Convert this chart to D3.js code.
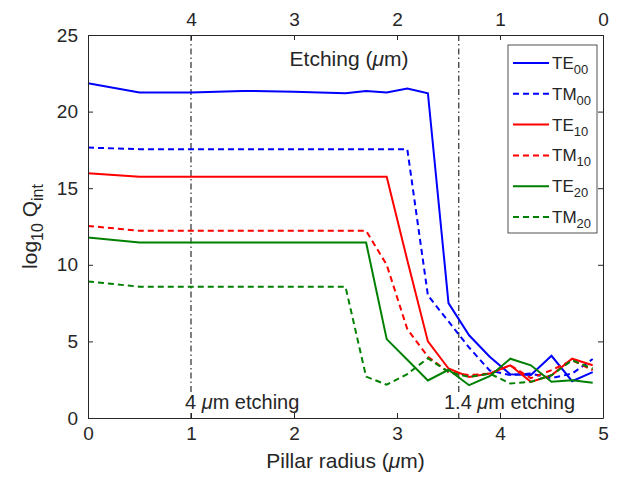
<!DOCTYPE html>
<html>
<head>
<meta charset="utf-8">
<script src="https://cdn.jsdelivr.net/npm/d3@7"></script>
<style>
  body { margin: 0; background: #fff; }
  text { font-family: "Liberation Sans", Arial, sans-serif; fill: #262626; }
</style>
</head>
<body>
<div id="chart"></div>
<script>
// pillar radius (um) sample points
const radius = [0, 0.5, 1, 1.5, 2, 2.5, 2.7, 2.9, 3.1, 3.3, 3.5, 3.7, 3.9, 4.1, 4.3, 4.5, 4.7, 4.9];

// log10 Q_int per mode
const te00 = [21.85, 21.25, 21.25, 21.35, 21.3, 21.2, 21.35, 21.25, 21.5, 21.2, 7.5, 5.4, 4.0, 2.85, 2.8, 4.06, 2.4, 3.0];
const tm00 = [17.65, 17.55, 17.55, 17.55, 17.55, 17.55, 17.55, 17.55, 17.55, 8.0, 6.3, 4.6, 3.1, 2.8, 2.9, 2.6, 2.9, 3.85];
const te10 = [15.98, 15.74, 15.74, 15.74, 15.74, 15.74, 15.74, 15.74, 10.3, 5.0, 3.23, 2.68, 2.9, 3.44, 2.36, 2.79, 3.87, 3.44];
const tm10 = [12.54, 12.22, 12.22, 12.22, 12.22, 12.22, 12.22, 10.0, 5.8, 4.0, 3.0, 2.8, 2.9, 3.44, 2.6, 3.12, 3.77, 3.12];
const te20 = [11.78, 11.46, 11.46, 11.46, 11.46, 11.46, 11.46, 5.15, 3.8, 2.45, 3.15, 2.14, 2.73, 3.87, 3.44, 2.36, 2.47, 2.3];
const tm20 = [8.91, 8.57, 8.57, 8.57, 8.57, 8.57, 2.7, 2.17, 2.87, 3.9, 3.0, 2.68, 2.9, 2.25, 2.36, 2.79, 3.77, 3.22];

const modes = ["TE", "TM", "TE", "TM", "TE", "TM"];
const modeIdx = ["00", "00", "10", "10", "20", "20"];
const colors = ["#0000ff", "#0000ff", "#ff0000", "#ff0000", "#008000", "#008000"];
const dashed = [false, true, false, true, false, true];
const seriesValues = [te00, tm00, te10, tm10, te20, tm20];

const xTicks = [0, 1, 2, 3, 4, 5];
const yTicks = [0, 5, 10, 15, 20, 25];
const etchTicks = [4, 3, 2, 1, 0];
const markerLines = [1, 3.6];

const W = 617, H = 479;
const margin = {top: 35, right: 14, bottom: 61, left: 88};

const svg = d3.select("#chart").append("svg")
    .attr("width", W)
    .attr("height", H);

const x = d3.scaleLinear().domain([0, 5]).range([margin.left, W - margin.right]);
const y = d3.scaleLinear().domain([0, 25]).range([H - margin.bottom, margin.top]);
// top axis: etching depth = 5 - radius
const xTop = d3.scaleLinear().domain([5, 0]).range([margin.left, W - margin.right]);

const axisColor = "#262626";
const fmt = d3.format("d");

// vertical dash-dot markers
svg.selectAll(".marker")
    .data(markerLines)
    .enter().append("line")
    .attr("class", "marker")
    .attr("x1", d => x(d)).attr("x2", d => x(d))
    .attr("y1", y(25)).attr("y2", y(0))
    .attr("stroke", "#000")
    .attr("stroke-width", 1)
    .attr("stroke-dasharray", "6,3,1.5,3");

// data lines
const line = d3.line()
    .x((d, i) => x(radius[i]))
    .y(d => y(d));

svg.selectAll(".series")
    .data(seriesValues)
    .enter().append("path")
    .attr("class", "series")
    .attr("d", d => line(d))
    .attr("fill", "none")
    .attr("stroke", (d, i) => colors[i])
    .attr("stroke-width", 2)
    .attr("stroke-dasharray", (d, i) => dashed[i] ? "6,4" : null);

// axes (ticks pointing inward)
const gx = svg.append("g")
    .attr("transform", `translate(0,${y(0)})`)
    .call(d3.axisBottom(x).tickValues(xTicks).tickFormat(fmt).tickSizeInner(-5).tickSizeOuter(0).tickPadding(9));
const gy = svg.append("g")
    .attr("transform", `translate(${x(0)},0)`)
    .call(d3.axisLeft(y).tickValues(yTicks).tickFormat(fmt).tickSizeInner(-5).tickSizeOuter(0).tickPadding(10));
const gt = svg.append("g")
    .attr("transform", `translate(0,${y(25)})`)
    .call(d3.axisTop(xTop).tickValues(etchTicks).tickFormat(fmt).tickSizeInner(-5).tickSizeOuter(0).tickPadding(9));
const gr = svg.append("g")
    .attr("transform", `translate(${x(5)},0)`)
    .call(d3.axisRight(y).tickValues(yTicks).tickSizeInner(-5).tickSizeOuter(0).tickFormat(""));

[gx, gy, gt, gr].forEach(g => {
    g.selectAll("path").attr("stroke", axisColor);
    g.selectAll("line").attr("stroke", axisColor);
    g.selectAll("text").style("font-size", "19px").attr("fill", axisColor);
});

// annotations (white background like the original text boxes)
const muText = (sel, before, after) => {
    sel.append("tspan").text(before);
    sel.append("tspan").attr("font-style", "italic").text("\u03bc");
    sel.append("tspan").text(after);
};

function note(px, py, size, anchor, before, after, boxed) {
    const t = svg.append("text")
        .attr("x", px).attr("y", py)
        .attr("text-anchor", anchor)
        .style("font-size", size + "px")
        .call(muText, before, after);
    if (boxed) {
        const b = t.node().getBBox();
        svg.insert("rect", () => t.node())
            .attr("x", b.x - 2).attr("y", b.y + 2)
            .attr("width", b.width + 4).attr("height", b.height - 2)
            .attr("fill", "#fff");
    }
    return t;
}

note(349, 66, 21, "middle", "Etching (", "m)", false);
note(185, 409, 20, "start", "4 ", "m etching", true);
note(444, 409, 20, "start", "1.4 ", "m etching", true);

// axis labels
note(x(2.5), 468, 21, "middle", "Pillar radius (", "m)", false);

const ylab = svg.append("text")
    .attr("transform", `translate(37,${y(12.5)}) rotate(-90)`)
    .attr("text-anchor", "middle")
    .style("font-size", "21px");
ylab.append("tspan").text("log");
ylab.append("tspan").attr("dy", 6).style("font-size", "16px").text("10");
ylab.append("tspan").attr("dy", -6).text(" Q");
ylab.append("tspan").attr("dy", 6).style("font-size", "16px").text("int");

// legend
const lg = svg.append("g").attr("transform", "translate(508,45)");
lg.append("rect")
    .attr("width", 89).attr("height", 188)
    .attr("fill", "#fff")
    .attr("stroke", axisColor)
    .attr("stroke-width", 0.8);

const rows = lg.selectAll(".lrow")
    .data(seriesValues)
    .enter().append("g")
    .attr("class", "lrow")
    .attr("transform", (d, i) => `translate(0,${18 + i * 30.8})`);

rows.append("line")
    .attr("x1", 5).attr("x2", 41)
    .attr("stroke", (d, i) => colors[i])
    .attr("stroke-width", 2)
    .attr("stroke-dasharray", (d, i) => dashed[i] ? "6,4" : null);

const lt = rows.append("text")
    .attr("x", 44).attr("y", 6)
    .style("font-size", "17px");
lt.append("tspan").text((d, i) => modes[i]);
lt.append("tspan").attr("dy", 5).style("font-size", "13px").text((d, i) => modeIdx[i]);
</script>
</body>
</html>
